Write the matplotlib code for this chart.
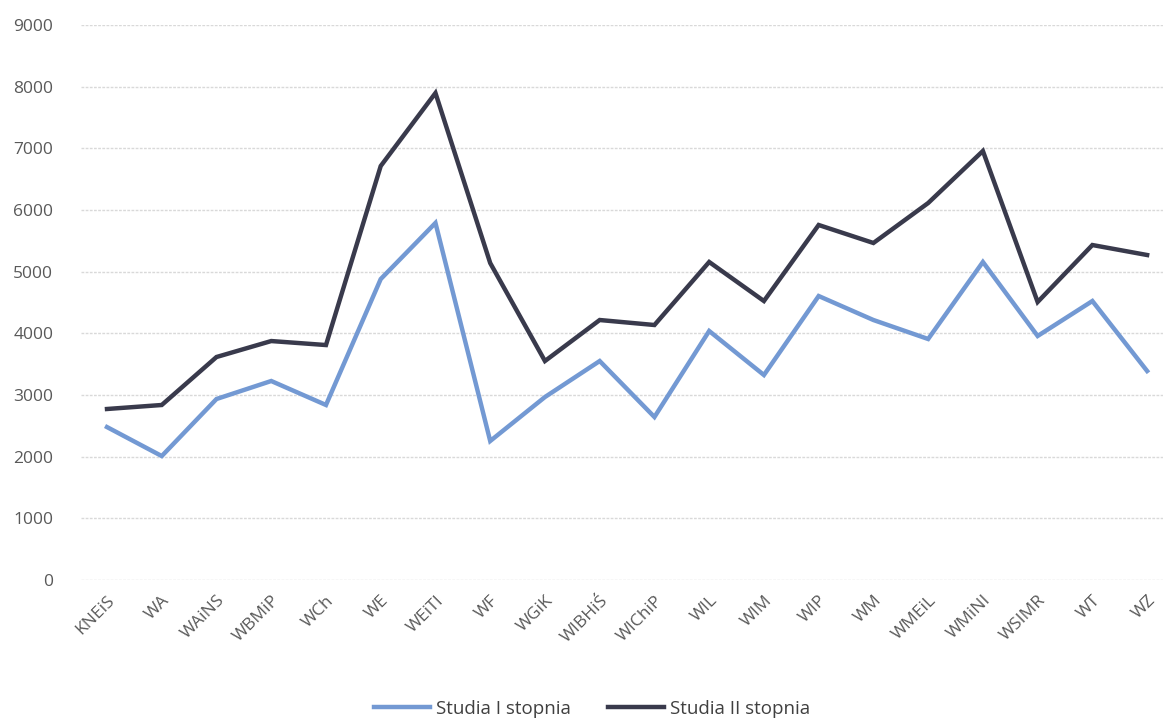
import matplotlib
matplotlib.use('Agg')
import matplotlib.pyplot as plt

plt.rcParams['font.family'] = ['Open Sans', 'DejaVu Sans']

# dane
wydzialy = ['KNEiS', 'WA', 'WAiNS', 'WBMiP', 'WCh', 'WE', 'WEiTI', 'WF', 'WGiK', 'WIBHiŚ',
            'WIChiP', 'WIL', 'WIM', 'WIP', 'WM', 'WMEiL', 'WMiNI', 'WSIMR', 'WT', 'WZ']
studia_1 = [2480, 2010, 2935, 3227, 2838, 4880, 5790, 2254, 2967, 3551,
            2643, 4038, 3324, 4605, 4216, 3908, 5157, 3957, 4524, 3389]
studia_2 = [2773, 2838, 3616, 3875, 3810, 6713, 7897, 5140, 3551, 4216,
            4135, 5157, 4524, 5757, 5465, 6113, 6957, 4508, 5432, 5270]

fig = plt.figure(figsize=(11.63, 7.2), dpi=100)
ax = fig.add_axes([81 / 1163, 140 / 720, 1 - 81 / 1163, 555 / 720])

x = range(len(wydzialy))
ax.plot(x, studia_1, color='#7399D3', lw=3.2, label='Studia I stopnia', solid_joinstyle='miter')
ax.plot(x, studia_2, color='#393A4C', lw=3.2, label='Studia II stopnia', solid_joinstyle='miter')

ax.set_ylim(0, 9000)
ax.set_xlim(-0.475, 19.29)
ax.set_yticks(range(0, 9001, 1000))
ax.set_xticks(list(x))
ax.set_xticklabels(wydzialy, rotation=45, ha='right', rotation_mode='anchor')
ax.grid(axis='y', color='#D9D9D9', lw=1, ls=(0, (2, 1)))
ax.set_axisbelow(True)
for s in ax.spines.values():
    s.set_visible(False)
ax.tick_params(length=0, labelsize=12.5, colors='#595959')
ax.tick_params(axis='y', pad=20)
ax.tick_params(axis='x', pad=9)

# legenda na dole
ax.legend(loc='upper center', bbox_to_anchor=(0.5 - 30 / 1082, -0.185), ncol=2, frameon=False,
          fontsize=13.5, handlelength=3.0, columnspacing=2.0, handletextpad=0.3,
          labelcolor='#404040')

fig.savefig('out.png', dpi=100)
